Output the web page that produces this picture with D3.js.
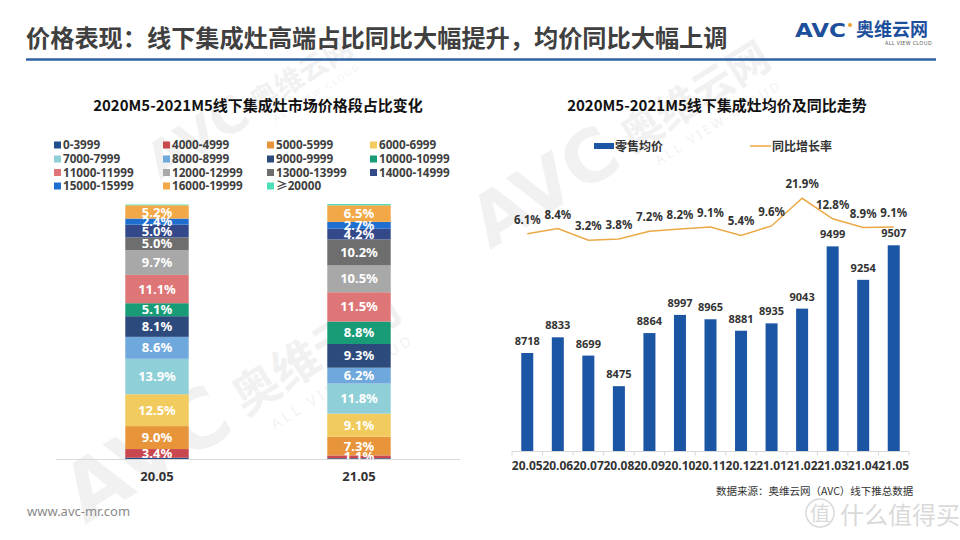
<!DOCTYPE html>
<html><head><meta charset="utf-8">
<script src="https://cdn.jsdelivr.net/npm/d3@7"></script>
<style>
html,body{margin:0;padding:0;background:#fff;}
svg{display:block;font-family:"Noto Sans","Noto Sans CJK SC",sans-serif;}
</style></head>
<body><svg id="c" width="960" height="540"></svg>
<script>
// ---------- data ----------
const title = "价格表现：线下集成灶高端占比同比大幅提升，均价同比大幅上调";
const leftTitle = "2020M5-2021M5线下集成灶市场价格段占比变化";
const rightTitle = "2020M5-2021M5线下集成灶均价及同比走势";
const shareCats = ["20.05", "21.05"];
const segments = ["0-3999","4000-4999","5000-5999","6000-6999","7000-7999","8000-8999","9000-9999","10000-10999","11000-11999","12000-12999","13000-13999","14000-14999","15000-15999","16000-19999","≥20000"];
const segColors = ["#1f4e8c","#c9474f","#e8943a","#f2cb5e","#8fd0d8","#6fa8dc","#2d4a7c","#189c78","#de7677","#a8a8a8","#6e6e6e","#33498a","#1f6fd0","#f3a848","#4ee0b8"];
const share2005 = [0.5,3.4,9.0,12.5,13.9,8.6,8.1,5.1,11.1,9.7,5.0,5.0,2.4,5.2,0.3];
const share2105 = [0.3,1.1,7.3,9.1,11.8,6.2,9.3,8.8,11.5,10.5,10.2,4.2,2.7,6.5,0.5];
const months = ["20.05","20.06","20.07","20.08","20.09","20.10","20.11","20.12","21.01","21.02","21.03","21.04","21.05"];
const avgPrice = [8718,8833,8699,8475,8864,8997,8965,8881,8935,9043,9499,9254,9507];
const yoyGrowth = [6.1,8.4,3.2,3.8,7.2,8.2,9.1,5.4,9.6,21.9,12.8,8.9,9.1];
const legendRight = ["零售均价","同比增长率"];
const sourceText = "数据来源：奥维云网（AVC）线下推总数据";
const siteText = "www.avc-mr.com";

// ---------- drawing ----------
const svg = d3.select("#c");
const fmtPct = d => d.toFixed(1) + "%";

// watermarks
function watermark(x, y, s) {
  const g = svg.append("g").attr("transform", `translate(${x},${y}) rotate(-32) scale(${s})`).attr("opacity", 0.05).attr("fill", "#000");
  g.append("text").attr("x", 0).attr("y", 0).attr("font-size", 90).attr("font-weight", 900).attr("font-family", "DejaVu Sans").text("AVC");
  g.append("text").attr("x", 215).attr("y", -8).attr("font-size", 52).attr("font-weight", 700).attr("font-family", "Noto Sans CJK SC").text("奥维云网");
  g.append("text").attr("x", 235).attr("y", 22).attr("font-size", 16).attr("letter-spacing", 4).text("ALL VIEW CLOUD");
}
watermark(85, 525, 0.9);
watermark(490, 250, 0.8);
watermark(160, 180, 0.55);

// header
svg.append("text").attr("x", 26).attr("y", 46.5).attr("font-size", 24.2).attr("font-weight", 700)
  .attr("fill", "#404040").attr("font-family", "Noto Sans CJK SC").text(title);
svg.append("line").attr("x1", 26).attr("x2", 936).attr("y1", 59.5).attr("y2", 59.5)
  .attr("stroke", "#2e62a3").attr("stroke-width", 2.5);
// logo
svg.append("text").attr("x", 795).attr("y", 37).attr("font-size", 19).attr("font-weight", 900)
  .attr("font-family", "DejaVu Sans").attr("fill", "#1d4f9c").attr("textLength", 51).attr("lengthAdjust", "spacingAndGlyphs").text("AVC");
svg.append("circle").attr("cx", 850).attr("cy", 25).attr("r", 2).attr("fill", "#f0a030");
svg.append("text").attr("x", 856).attr("y", 36).attr("font-size", 18).attr("font-weight", 700)
  .attr("font-family", "Noto Sans CJK SC").attr("fill", "#1d4f9c").text("奥维云网");
svg.append("text").attr("x", 885).attr("y", 45).attr("font-size", 5.2).attr("fill", "#555").attr("letter-spacing", 0.4).text("ALL VIEW CLOUD");

// subtitles
svg.append("text").attr("x", 258).attr("y", 111).attr("text-anchor", "middle").attr("font-size", 15)
  .attr("font-weight", 700).attr("fill", "#111").attr("font-family", "Noto Sans CJK SC").text(leftTitle);
svg.append("text").attr("x", 717).attr("y", 111).attr("text-anchor", "middle").attr("font-size", 15)
  .attr("font-weight", 700).attr("fill", "#111").attr("font-family", "Noto Sans CJK SC").text(rightTitle);

// ---------- left legend ----------
const legX = [54, 163, 267, 370];
const legY = [145, 159, 172.5, 186];
const lg = svg.append("g");
segments.forEach((s, i) => {
  const cx = legX[i % 4], cy = legY[Math.floor(i / 4)];
  lg.append("rect").attr("x", cx).attr("y", cy - 3.5).attr("width", 7).attr("height", 7).attr("fill", segColors[i]);
  lg.append("text").attr("x", cx + 9).attr("y", cy + 4.2).attr("font-size", 11.7).attr("font-weight", 700)
    .attr("fill", "#404040").text(s);
});

// ---------- left stacked bars ----------
const xL = d3.scaleBand().domain(shareCats).range([56, 460]).paddingInner(0.686).paddingOuter(0.343);
const yL = d3.scaleLinear().domain([0, 100]).range([459, 204]);
const rows = shareCats.map((c, ci) => {
  const o = { cat: c };
  const arr = ci === 0 ? share2005 : share2105;
  segments.forEach((s, i) => o[s] = arr[i]);
  return o;
});
const stack = d3.stack().keys(segments)(rows);
const gL = svg.append("g");
stack.forEach((layer, li) => {
  layer.forEach(d => {
    gL.append("rect").attr("x", xL(d.data.cat)).attr("width", xL.bandwidth())
      .attr("y", yL(d[1])).attr("height", yL(d[0]) - yL(d[1])).attr("fill", segColors[li]);
  });
});
stack.forEach((layer, li) => {
  layer.forEach(d => {
    const v = d[1] - d[0];
    if (v < 1) return;
    gL.append("text").attr("x", xL(d.data.cat) + xL.bandwidth() / 2).attr("y", (yL(d[0]) + yL(d[1])) / 2 + 4.6)
      .attr("text-anchor", "middle").attr("font-size", 13).attr("font-weight", 700).attr("fill", "#fff")
      .text(fmtPct(d.data[layer.key]));
  });
});
gL.append("line").attr("x1", 56).attr("x2", 460).attr("y1", 459.5).attr("y2", 459.5).attr("stroke", "#d9d9d9");
shareCats.forEach(c => {
  gL.append("text").attr("x", xL(c) + xL.bandwidth() / 2).attr("y", 481).attr("text-anchor", "middle")
    .attr("font-size", 13).attr("font-weight", 700).attr("fill", "#333").text(c);
});

// ---------- right chart ----------
const xR = d3.scaleBand().domain(months).range([512, 909]).paddingInner(0.607).paddingOuter(0.3035);
const yR = d3.scaleLinear().domain([8000, 10000]).range([451, 178]);
const yG = d3.scaleLinear().domain([0, 25]).range([247.5, 191.35]);
const gR = svg.append("g");
const barColor = "#1b56a5", lineColor = "#eaa945";

// legend
gR.append("rect").attr("x", 594).attr("y", 143).attr("width", 20).attr("height", 6).attr("fill", barColor);
gR.append("text").attr("x", 615).attr("y", 150.5).attr("font-size", 12).attr("font-weight", 700).attr("fill", "#333")
  .attr("font-family", "Noto Sans CJK SC").text(legendRight[0]);
gR.append("line").attr("x1", 750).attr("x2", 771).attr("y1", 146).attr("y2", 146).attr("stroke", lineColor).attr("stroke-width", 1.5);
gR.append("text").attr("x", 772).attr("y", 150.5).attr("font-size", 12).attr("font-weight", 700).attr("fill", "#333")
  .attr("font-family", "Noto Sans CJK SC").text(legendRight[1]);

// bars
months.forEach((m, i) => {
  gR.append("rect").attr("x", xR(m)).attr("width", xR.bandwidth()).attr("y", yR(avgPrice[i]))
    .attr("height", yR(8000) - yR(avgPrice[i])).attr("fill", barColor);
  gR.append("text").attr("x", xR(m) + xR.bandwidth() / 2).attr("y", yR(avgPrice[i]) - 8)
    .attr("text-anchor", "middle").attr("font-size", 11).attr("font-weight", 700).attr("fill", "#333").text(avgPrice[i]);
});
// axis
const step = xR.step();
gR.append("line").attr("x1", 512).attr("x2", 909).attr("y1", 451.5).attr("y2", 451.5).attr("stroke", "#d9d9d9");
d3.range(months.length + 1).forEach(i => {
  const x = 512 + i * step;
  gR.append("line").attr("x1", x).attr("x2", x).attr("y1", 451.5).attr("y2", 455.5).attr("stroke", "#d9d9d9");
});
months.forEach(m => {
  gR.append("text").attr("x", xR(m) + xR.bandwidth() / 2).attr("y", 470).attr("text-anchor", "middle")
    .attr("font-size", 12).attr("font-weight", 700).attr("fill", "#333").text(m);
});
// line
const lineGen = d3.line().x((d, i) => xR(months[i]) + xR.bandwidth() / 2).y(d => yG(d));
gR.append("path").datum(yoyGrowth).attr("d", lineGen).attr("fill", "none").attr("stroke", lineColor).attr("stroke-width", 1.5);
yoyGrowth.forEach((v, i) => {
  gR.append("text").attr("x", xR(months[i]) + xR.bandwidth() / 2).attr("y", yG(v) - 10)
    .attr("text-anchor", "middle").attr("font-size", 11.5).attr("font-weight", 700).attr("fill", "#333").text(fmtPct(v));
});

// source & footer
svg.append("text").attr("x", 716).attr("y", 495).attr("font-size", 10.5).attr("fill", "#333")
  .attr("font-family", "Noto Sans CJK SC").text(sourceText);
svg.append("text").attr("x", 27).attr("y", 516).attr("font-size", 13).attr("fill", "#8a8a8a").text(siteText);
// overlay watermark
const wm = svg.append("g").attr("opacity", 0.55);
wm.append("circle").attr("cx", 820).attr("cy", 513).attr("r", 14).attr("fill", "none").attr("stroke", "#bbb").attr("stroke-width", 1.5);
wm.append("text").attr("x", 820).attr("y", 521).attr("text-anchor", "middle").attr("font-size", 20).attr("fill", "#bbb")
  .attr("font-family", "Noto Sans CJK SC").text("值");
wm.append("text").attr("x", 840).attr("y", 524).attr("font-size", 24).attr("fill", "#bbb")
  .attr("font-family", "Noto Sans CJK SC").text("什么值得买");
</script></body></html>
